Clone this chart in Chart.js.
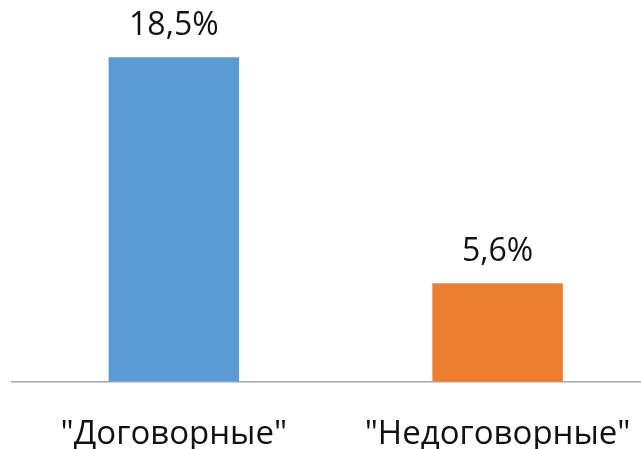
<!DOCTYPE html>
<html>
<head>
<meta charset="utf-8">
<script src="https://cdn.jsdelivr.net/npm/chart.js@4/dist/chart.umd.min.js"></script>
<style>
  html, body { margin: 0; padding: 0; background: #fff; overflow: hidden; height: 449px; }
  #wrap { width: 664px; height: 487px; }
</style>
</head>
<body>
<div id="wrap"><canvas id="bars"></canvas></div>
<script>
const categories = ['"Договорные"', '"Недоговорные"'];
const shares = [18.5, 5.6];
const barColors = ['#5b9bd5', '#ed7d31'];

// подписи значений над столбцами
const valueLabels = {
  id: 'valueLabels',
  afterDatasetsDraw(chart) {
    const c = chart.ctx;
    const meta = chart.getDatasetMeta(0);
    c.save();
    c.font = '32px "Open Sans"';
    c.fillStyle = '#111';
    c.textAlign = 'center';
    c.textBaseline = 'alphabetic';
    meta.data.forEach((bar, i) => {
      const txt = shares[i].toFixed(1).replace('.', ',') + '%';
      c.fillText(txt, bar.x, bar.y - 22);
    });
    c.restore();
  }
};

const ctx = document.getElementById('bars').getContext('2d');
const chart = new Chart(ctx, {
  type: 'bar',
  data: {
    labels: categories,
    datasets: [{
      data: shares,
      backgroundColor: barColors,
      borderWidth: 0,
      barPercentage: 0.403,
      categoryPercentage: 1
    }]
  },
  options: {
    responsive: true,
    maintainAspectRatio: false,
    animation: false,
    layout: { padding: { left: 12, right: 2, top: 31, bottom: 0 } },
    plugins: { legend: { display: false }, tooltip: { enabled: false } },
    scales: {
      x: {
        grid: { display: false, drawTicks: false },
        border: { display: true, color: '#a6a6a6', width: 1.5 },
        ticks: { font: { family: 'Open Sans', size: 33 }, color: '#111', padding: 33 }
      },
      y: { display: false, min: 0, max: 20 }
    }
  },
  plugins: [valueLabels]
});
</script>
</body>
</html>
